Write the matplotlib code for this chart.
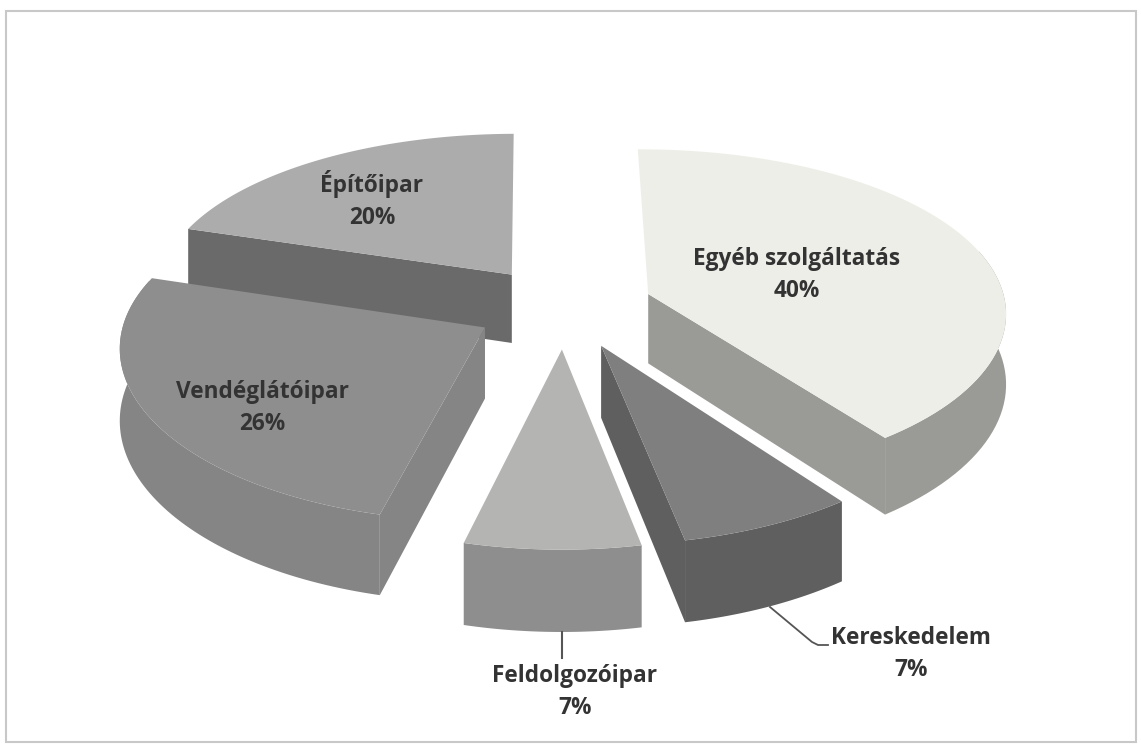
import numpy as np
import matplotlib
matplotlib.use("Agg")
import matplotlib.pyplot as plt
from matplotlib.patches import Polygon, Rectangle

labels = ["Egyéb szolgáltatás", "Kereskedelem", "Feldolgozóipar", "Vendéglátóipar", "Építőipar"]
values = [40, 7, 7, 26, 20]
top_colors = ["#eeeee9", "#7f7f7f", "#b4b4b2", "#8e8e8e", "#acacac"]
side_colors = ["#9a9a96", "#5f5f5f", "#8e8e8e", "#858585", "#6a6a6a"]
label_xy = [(797, 275), (911, 654), (575, 692), (262, 408), (372, 200)]
draw_order = [4, 0, 3, 1, 2]

X0, Y0 = 564, 307
AX, AY = 358, 165
KX, KY = 0.10, 0.12
DEPTH = 70
EXPLODE = 0.25
ROTATION = np.radians(-0.5)


def project(u, v, h=0.0):
    wx = 1 + KX * v
    wy = 1 + KY * v
    return X0 + AX * u / wx, Y0 - AY * v / wy + h * DEPTH / wy


fig = plt.figure(figsize=(11.41, 7.46), dpi=100)
ax = fig.add_axes([0, 0, 1, 1])
ax.set_xlim(0, 1141)
ax.set_ylim(746, 0)
ax.axis("off")

# scanned frame
ax.add_patch(Rectangle((6, 11), 1130, 731, fill=False, ec="#c8c8c8", lw=1.5))

edges = np.cumsum([0] + values) / sum(values) * 2 * np.pi + ROTATION
for i in draw_order:
    a0, a1 = edges[i], edges[i + 1]
    mid = (a0 + a1) / 2
    cu, cv = EXPLODE * np.sin(mid), EXPLODE * np.cos(mid)
    t = np.linspace(a0, a1, 80)
    u = np.r_[cu, cu + np.sin(t)]
    v = np.r_[cv, cv + np.cos(t)]
    tx, ty = project(u, v)
    bx, by = project(u, v, 1)
    top = np.c_[tx, ty]
    bottom = np.c_[bx, by]
    # radial faces only where they turn towards the viewer, top goes over them
    if np.sin(a0) < -0.05:
        ax.add_patch(Polygon(np.r_[top[:2], bottom[:2][::-1]], fc=side_colors[i], ec="none"))
    if np.sin(a1) > 0.05:
        ax.add_patch(Polygon(np.r_[top[[0, -1]], bottom[[0, -1]][::-1]], fc=side_colors[i], ec="none"))
    # outer wall, front part of the arc only
    front = np.r_[False, np.cos(t) < 0.3]
    if front.sum() > 1:
        ax.add_patch(Polygon(np.r_[top[front], bottom[front][::-1]], fc=side_colors[i], ec="none"))
    ax.add_patch(Polygon(top, fc=top_colors[i], ec="none"))

# leader lines
ax.plot([562, 562], [632, 658], color="#555555", lw=1.5)
ax.plot([770, 812, 818, 828], [607, 642, 645, 645], color="#555555", lw=1.3)

for i, (x, y) in enumerate(label_xy):
    ax.text(x, y, "%s\n%d%%" % (labels[i], values[i]), ha="center", va="center",
            fontsize=16.3, fontweight="bold", family="Open Sans", color="#333333",
            linespacing=1.45)

fig.savefig("out.png", dpi=100)
